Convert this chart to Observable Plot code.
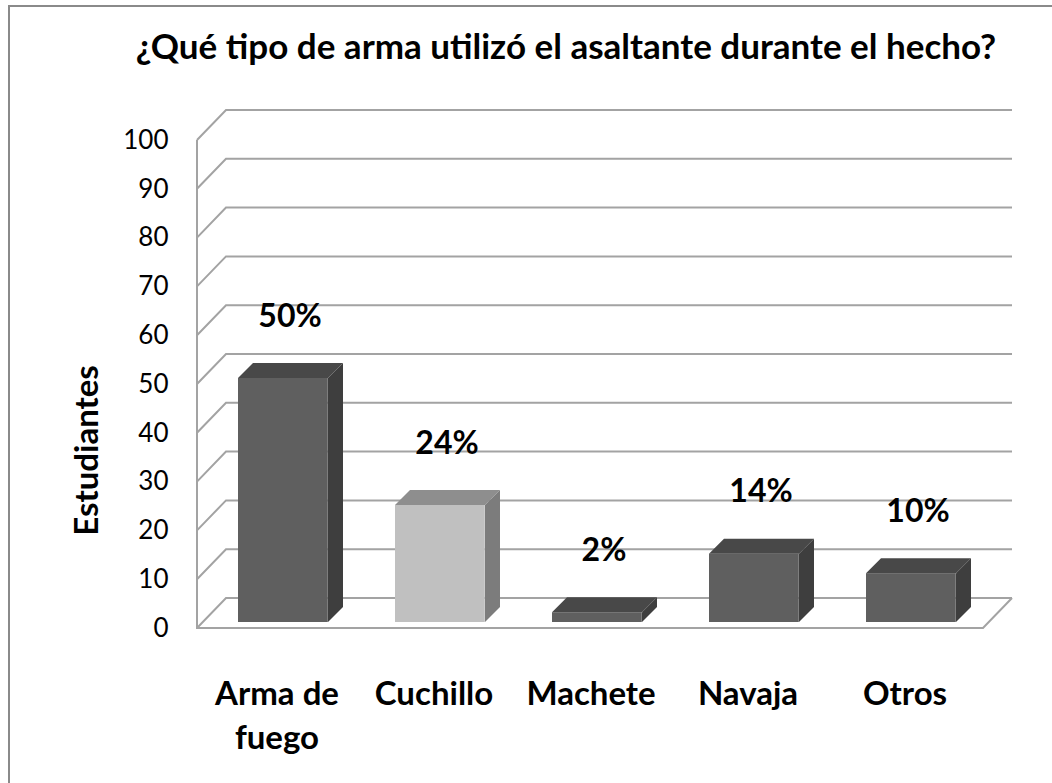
<!DOCTYPE html>
<html><head><meta charset="utf-8">
<script src="https://cdn.jsdelivr.net/npm/d3@7"></script>
<script src="https://cdn.jsdelivr.net/npm/@observablehq/plot@0.6"></script>
<style>
html,body{margin:0;padding:0;background:#fff;}
#page{position:relative;width:1052px;height:783px;overflow:hidden;font-family:Lato,sans-serif;}
#edge{position:absolute;left:8px;top:5px;right:-10px;bottom:-10px;border-left:2px solid #8a8a8a;border-top:2px solid #8a8a8a;}
#title{position:relative;height:100px;box-sizing:border-box;padding-top:26px;padding-left:80px;text-align:center;font-size:35px;line-height:38px;font-weight:700;color:#000;white-space:nowrap;}
#chart{position:relative;}
</style></head><body>
<div id="page"><div id="edge"></div><div id="title"></div><div id="chart"></div></div>
<script>
// ---- data ----
const title = "¿Qué tipo de arma utilizó el asaltante durante el hecho?";
const yTitle = "Estudiantes";
const categories = ["Arma de fuego", "Cuchillo", "Machete", "Navaja", "Otros"];
const tickLabels = ["Arma de\nfuego", "Cuchillo", "Machete", "Navaja", "Otros"];
const values = [50, 24, 2, 14, 10];
const valueLabels = ["50%", "24%", "2%", "14%", "10%"];
const yTicks = [0, 10, 20, 30, 40, 50, 60, 70, 80, 90, 100];

// ---- styles ----
const dark = {front: "#5f5f5f", side: "#3e3e3e", top: "#484848"};
const light = {front: "#c0c0c0", side: "#7c7c7c", top: "#8e8e8e"};
const shadeOf = c => (c === "Cuchillo" ? light : dark);
const WALL = {dx: 29, dy: -30};
const BAR = {inset: 40, width: 90, depth: 15, lift: 6};
const GRID = "#a3a3a3";

document.getElementById("title").textContent = title;

const data = categories.map((c, i) => ({cat: c, label: tickLabels[i], value: values[i], text: valueLabels[i]}));

const W = 1052, H = 683, ML = 197, MR = 69, MT = 40, MB = 155;
const bandwidth = (W - ML - MR) / categories.length;

function grid(index, scales, vals, dim) {
  const {y} = scales;
  const x0 = dim.marginLeft, x1 = dim.width - dim.marginRight;
  const g = d3.create("svg:g").attr("fill", "none").attr("stroke", GRID).attr("stroke-width", 2);
  for (const t of yTicks) {
    const yy = y(t);
    g.append("path").attr("d", `M${x0},${yy}L${x0 + WALL.dx},${yy + WALL.dy}H${x1 + WALL.dx}`);
  }
  const top = y(yTicks[yTicks.length - 1]), bot = y(0);
  g.append("path").attr("d", `M${x0},${top}V${bot}H${x1}L${x1 + WALL.dx},${bot + WALL.dy}`);
  return g.node();
}

function faces(index, scales) {
  const {x, y} = scales;
  const g = d3.create("svg:g");
  const k = BAR.depth;
  for (const d of data) {
    const s = shadeOf(d.cat);
    const xl = x(d.cat) + BAR.inset, xr = xl + BAR.width;
    const yt = y(d.value) - BAR.lift, yb = y(0) - BAR.lift;
    g.append("path").attr("fill", s.top).attr("d", `M${xl},${yt}L${xl + k},${yt - k}H${xr + k}L${xr},${yt}Z`);
    g.append("path").attr("fill", s.side).attr("d", `M${xr},${yt}L${xr + k},${yt - k}V${yb - k}L${xr},${yb}Z`);
  }
  return g.node();
}

const chart = Plot.plot({
  width: W, height: H,
  marginLeft: ML, marginRight: MR, marginTop: MT, marginBottom: MB,
  style: {fontFamily: "Lato, sans-serif", fontSize: "26px", color: "#000", background: "transparent", overflow: "visible"},
  x: {domain: categories, padding: 0, axis: null},
  y: {domain: [0, 100], ticks: yTicks, tickSize: 0, tickPadding: 29, label: null},
  color: {domain: categories, range: categories.map(c => shadeOf(c).front)},
  marks: [
    grid,
    Plot.barY(data, {x: "cat", y: "value", fill: "cat", insetLeft: BAR.inset, insetRight: bandwidth - BAR.inset - BAR.width, dy: -BAR.lift}),
    faces,
    Plot.text(data, {x: "cat", y: "value", text: "text", dx: 13, dy: -68, fontSize: 32, fontWeight: "bold", fill: "#000"}),
    Plot.text(data, {x: "cat", y: 0, text: "label", lineAnchor: "top", dy: 46, lineHeight: 1.32, fontSize: 33, fontWeight: "bold", fill: "#000"}),
    Plot.text([yTitle], {frameAnchor: "left", textAnchor: "middle", rotate: -90, dx: -110, dy: 66, fontSize: 33, fontWeight: "bold", fill: "#000"})
  ]
});
document.getElementById("chart").appendChild(chart);
</script>
</body></html>
